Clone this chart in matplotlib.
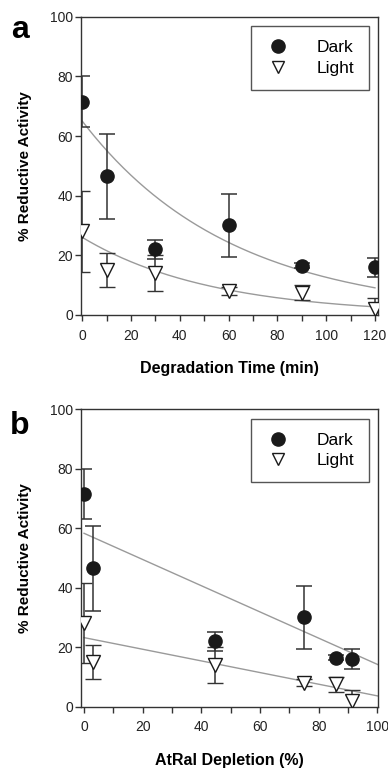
import numpy as np
import matplotlib
matplotlib.use("Agg")
import matplotlib.pyplot as plt
from matplotlib.ticker import MultipleLocator
from matplotlib.lines import Line2D

plt.rcParams["font.family"] = ["Liberation Sans", "DejaVu Sans"]

# ── Data ──────────────────────────────────────────────────────────────────────
time_min = [0, 10, 30, 60, 90, 120]              # degradation time
depletion = [0, 3, 44.5, 75, 86, 91.5]           # AtRal depletion (%)

dark_mean = [71.5, 46.5, 22, 30, 16.5, 16]
dark_err = [8.5, 14.2, 3.2, 10.6, 0.8, 3.2]
light_mean = [28, 15, 14, 8, 7.5, 2]
light_err = [13.5, 5.6, 6, 1.2, 2.6, 3.5]

# exponential decay fits  y = A * exp(-k t)
dark_exp = (65.0, 0.0164)
light_exp = (26.0, 0.0189)
# linear fits  y = b0 + b1 * x
dark_lin = (58.3, -0.441)
light_lin = (23.2, -0.196)

SPINE = "#333333"
FIT = "#9a9a9a"


def style_axes(ax, xstep):
    for s in ax.spines.values():
        s.set_color(SPINE)
        s.set_linewidth(1.0)
    ax.set_ylim(0, 100)
    ax.yaxis.set_major_locator(MultipleLocator(20))
    ax.xaxis.set_major_locator(MultipleLocator(xstep))
    ax.xaxis.set_minor_locator(MultipleLocator(xstep / 2))
    ax.tick_params(axis="both", which="both", direction="out", length=4,
                   width=1, color=SPINE, labelsize=10, labelcolor="#222222")
    ax.tick_params(axis="x", pad=6)
    ax.tick_params(axis="y", pad=2)
    ax.set_ylabel("% Reductive Activity", fontsize=11, fontweight="bold",
                  labelpad=13)


def draw_points(ax, xs):
    ax.errorbar(xs, dark_mean, yerr=dark_err, fmt="o", color="#1a1a1a",
                ms=9.5, ecolor="#333333", elinewidth=1.1, capsize=6,
                capthick=1.1, zorder=4)
    ax.errorbar(xs, light_mean, yerr=light_err, fmt="v", mfc="white",
                mec="#1a1a1a", mew=1.0, ms=10.5, ecolor="#333333",
                elinewidth=1.1, capsize=6, capthick=1.1, zorder=3)


def add_legend(ax):
    handles = [
        Line2D([], [], ls="none", marker="o", color="#1a1a1a", ms=9.5),
        Line2D([], [], ls="none", marker="v", mfc="white", mec="#1a1a1a",
               mew=1.0, ms=8),
    ]
    leg = ax.legend(handles, ["Dark", "Light"], loc="upper right",
                    bbox_to_anchor=(0.98, 0.98), fontsize=12.5, frameon=True,
                    fancybox=False, borderpad=0.8, handletextpad=1.5,
                    labelspacing=0.3, borderaxespad=0.2, handlelength=1.5)
    fr = leg.get_frame()
    fr.set_edgecolor("#555555")
    fr.set_linewidth(1.0)
    fr.set_facecolor("white")
    fr.set_alpha(1)


fig = plt.figure(figsize=(3.88, 7.68), dpi=100)

# ── Panel a: vs degradation time ──────────────────────────────────────────────
ax1 = fig.add_axes([0.209, 0.590, 0.765, 0.388])
t = np.linspace(0, 120, 200)
ax1.plot(t, dark_exp[0] * np.exp(-dark_exp[1] * t), color=FIT, lw=1.0, zorder=2)
ax1.plot(t, light_exp[0] * np.exp(-light_exp[1] * t), color=FIT, lw=1.0, zorder=2)
draw_points(ax1, time_min)
ax1.set_xlim(-0.5, 121.2)
style_axes(ax1, 20)
ax1.set_xlabel("Degradation Time (min)", fontsize=11.5, fontweight="bold",
               labelpad=13)
add_legend(ax1)
fig.text(0.052, 0.9505, "a", fontsize=23, fontweight="bold", va="baseline",
         ha="center")

# ── Panel b: vs AtRal depletion ───────────────────────────────────────────────
ax2 = fig.add_axes([0.209, 0.080, 0.765, 0.387])
d = np.linspace(0, 100.2, 50)
ax2.plot(d, dark_lin[0] + dark_lin[1] * d, color=FIT, lw=1.0, zorder=2)
ax2.plot(d, light_lin[0] + light_lin[1] * d, color=FIT, lw=1.0, zorder=2)
draw_points(ax2, depletion)
ax2.set_xlim(-1.0, 100.2)
style_axes(ax2, 20)
ax2.set_xlabel("AtRal Depletion (%)", fontsize=11.5, fontweight="bold",
               labelpad=13)
add_legend(ax2)
fig.text(0.052, 0.435, "b", fontsize=23, fontweight="bold", va="baseline",
         ha="center")

fig.savefig("out.png", dpi=100)
